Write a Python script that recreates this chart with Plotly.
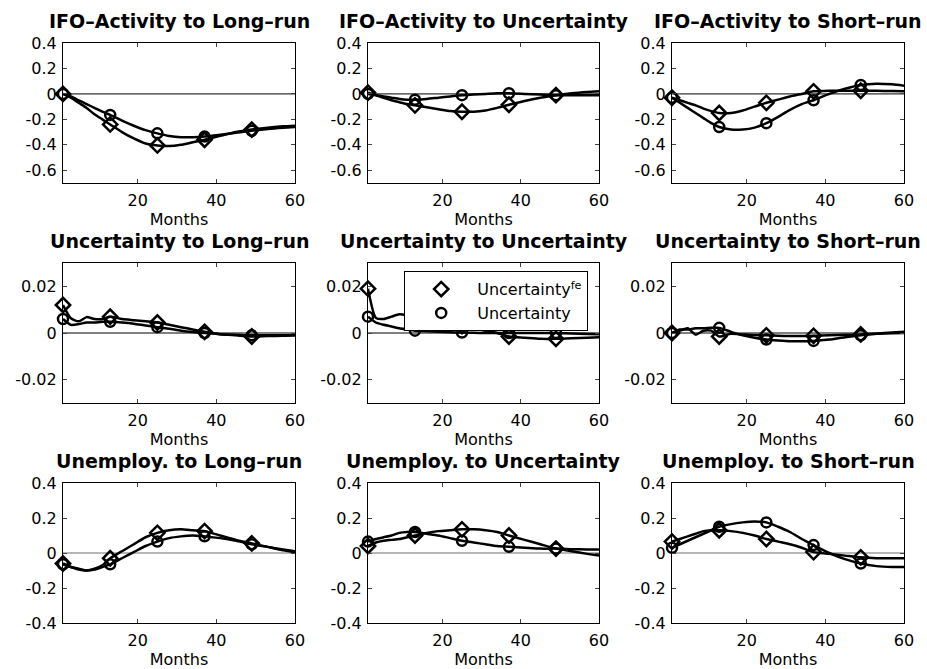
import plotly.graph_objects as go
from plotly.subplots import make_subplots

# ---------------- data ----------------
months = [1, 3, 5, 7, 9, 11, 13, 16, 19, 22, 25, 28, 31, 34, 37, 41, 45, 49, 53, 57, 60]
marker_months = [1, 13, 25, 37, 49]

titles = [
    "IFO–Activity to Long–run", "IFO–Activity to Uncertainty", "IFO–Activity to Short–run",
    "Uncertainty to Long–run", "Uncertainty to Uncertainty", "Uncertainty to Short–run",
    "Unemploy. to Long–run", "Unemploy. to Uncertainty", "Unemploy. to Short–run",
]

# Uncertainty^fe (diamonds)
ifo_long_fe = [0, -0.03, -0.07, -0.11, -0.16, -0.20, -0.24, -0.30, -0.35, -0.39, -0.405, -0.41, -0.40, -0.38, -0.36, -0.33, -0.30, -0.28, -0.265, -0.255, -0.25]
ifo_unc_fe = [0.01, -0.01, -0.03, -0.05, -0.065, -0.08, -0.09, -0.105, -0.12, -0.135, -0.14, -0.14, -0.13, -0.11, -0.085, -0.055, -0.03, -0.01, 0.005, 0.015, 0.02]
ifo_short_fe = [-0.03, -0.05, -0.07, -0.09, -0.115, -0.135, -0.15, -0.15, -0.13, -0.10, -0.07, -0.045, -0.02, 0.0, 0.02, 0.025, 0.025, 0.025, 0.025, 0.022, 0.02]
unc_long_fe = [0.012, 0.0063, 0.005, 0.0068, 0.006, 0.006, 0.007, 0.006, 0.0055, 0.005, 0.0045, 0.0035, 0.0025, 0.0015, 0.0005, -0.0005, -0.001, -0.0015, -0.0013, -0.0012, -0.001]
unc_unc_fe = [0.019, 0.0065, 0.006, 0.007, 0.008, 0.0075, 0.0065, 0.0055, 0.0045, 0.0038, 0.003, 0.002, 0.001, 0.0, -0.0015, -0.002, -0.0025, -0.0025, -0.0022, -0.002, -0.0018]
unc_short_fe = [0.0, 0.001, 0.002, -0.0007, 0.001, 0.001, -0.0015, -0.0003, -0.0006, -0.0009, -0.001, -0.0012, -0.0013, -0.0013, -0.0012, -0.001, -0.0008, -0.0006, -0.0003, -0.0001, 0.0]
une_long_fe = [-0.06, -0.08, -0.09, -0.10, -0.09, -0.07, -0.03, 0.01, 0.05, 0.09, 0.115, 0.13, 0.135, 0.13, 0.125, 0.10, 0.075, 0.055, 0.035, 0.015, 0.005]
une_unc_fe = [0.04, 0.06, 0.07, 0.075, 0.08, 0.09, 0.10, 0.115, 0.125, 0.13, 0.135, 0.135, 0.13, 0.12, 0.10, 0.075, 0.05, 0.025, 0.01, -0.005, -0.015]
une_short_fe = [0.065, 0.08, 0.095, 0.11, 0.125, 0.13, 0.13, 0.125, 0.115, 0.10, 0.08, 0.065, 0.05, 0.03, 0.005, -0.005, -0.015, -0.025, -0.03, -0.03, -0.03]

# Uncertainty (circles)
ifo_long_u = [0, -0.02, -0.05, -0.08, -0.11, -0.14, -0.165, -0.21, -0.25, -0.285, -0.31, -0.33, -0.34, -0.34, -0.335, -0.32, -0.305, -0.29, -0.275, -0.265, -0.26]
ifo_unc_u = [0, -0.01, -0.02, -0.03, -0.04, -0.045, -0.045, -0.04, -0.03, -0.02, -0.01, -0.005, 0, 0.005, 0.005, 0, -0.005, -0.01, -0.01, -0.01, -0.01]
ifo_short_u = [-0.03, -0.07, -0.11, -0.15, -0.19, -0.23, -0.26, -0.28, -0.28, -0.265, -0.23, -0.18, -0.125, -0.08, -0.05, 0.0, 0.04, 0.07, 0.08, 0.075, 0.065]
unc_long_u = [0.006, 0.0035, 0.0038, 0.0045, 0.0045, 0.0048, 0.0048, 0.0045, 0.004, 0.0032, 0.0025, 0.0018, 0.001, 0.0004, 0.0, -0.0005, -0.0008, -0.001, -0.001, -0.001, -0.001]
unc_unc_u = [0.007, 0.0045, 0.0035, 0.0028, 0.002, 0.0015, 0.001, 0.0008, 0.0005, 0.0003, 0.0002, 0.0001, 0, 0, 0, 0, 0, 0, -0.0002, -0.0004, -0.0005]
unc_short_u = [0.0, 0.0015, 0.0015, 0.002, 0.002, 0.0022, 0.0022, 0.0005, -0.001, -0.002, -0.0028, -0.0032, -0.0035, -0.0035, -0.0034, -0.0028, -0.0018, -0.001, -0.0003, 0.0002, 0.0005]
une_long_u = [-0.065, -0.08, -0.095, -0.10, -0.095, -0.08, -0.065, -0.03, 0.005, 0.04, 0.065, 0.085, 0.095, 0.10, 0.095, 0.085, 0.07, 0.05, 0.035, 0.02, 0.01]
une_unc_u = [0.065, 0.08, 0.09, 0.10, 0.115, 0.12, 0.12, 0.11, 0.10, 0.085, 0.07, 0.06, 0.05, 0.04, 0.035, 0.03, 0.025, 0.025, 0.022, 0.02, 0.02]
une_short_u = [0.03, 0.05, 0.07, 0.09, 0.11, 0.13, 0.15, 0.165, 0.175, 0.18, 0.175, 0.15, 0.12, 0.08, 0.045, 0.0, -0.035, -0.06, -0.075, -0.08, -0.08]

series_fe = [ifo_long_fe, ifo_unc_fe, ifo_short_fe, unc_long_fe, unc_unc_fe, unc_short_fe,
             une_long_fe, une_unc_fe, une_short_fe]
series_u = [ifo_long_u, ifo_unc_u, ifo_short_u, unc_long_u, unc_unc_u, unc_short_u,
            une_long_u, une_unc_u, une_short_u]

row_ranges = [[-0.7, 0.4], [-0.03, 0.03], [-0.4, 0.4]]
row_ticks = [[-0.6, -0.4, -0.2, 0, 0.2, 0.4], [-0.02, 0, 0.02], [-0.4, -0.2, 0, 0.2, 0.4]]
row_ticktext = [["-0.6", "-0.4", "-0.2", "0", "0.2", "0.4"], ["-0.02", "0", "0.02"],
                ["-0.4", "-0.2", "0", "0.2", "0.4"]]
x_ticks = [20, 40, 60]
legend_names = ["Uncertainty<sup>fe</sup>", "Uncertainty"]

# ---------------- layout geometry ----------------
W, H = 927, 669
col_px = [(63, 295), (368, 599), (672, 904)]
row_px = [(43, 183), (263, 403), (483, 623)]

FONT = "DejaVu Sans"
LW = 2.5

fig = make_subplots(rows=3, cols=3)

mk_idx = [months.index(m) for m in marker_months]
symbols = ["diamond-open", "circle-open"]
msizes = [11, 10]

for k in range(9):
    r, c = divmod(k, 3)
    for s, ser in enumerate([series_fe[k], series_u[k]]):
        fig.add_trace(go.Scatter(
            x=months, y=ser, mode="lines", line=dict(color="black", width=LW, shape="spline", smoothing=0.6),
            showlegend=False, hoverinfo="skip"), row=r + 1, col=c + 1)
        fig.add_trace(go.Scatter(
            x=[months[i] for i in mk_idx], y=[ser[i] for i in mk_idx], mode="markers",
            marker=dict(symbol=symbols[s], size=msizes[s], color="black", line=dict(color="black", width=2.5)),
            cliponaxis=False, showlegend=False, hoverinfo="skip"), row=r + 1, col=c + 1)

# legend-only entries
for s in range(2):
    fig.add_trace(go.Scatter(
        x=[None], y=[None], mode="markers", name=legend_names[s],
        marker=dict(symbol=symbols[s], size=msizes[s], color="black", line=dict(color="black", width=2.5)),
        showlegend=True), row=2, col=2)

annotations = []
shapes = []
for k in range(9):
    r, c = divmod(k, 3)
    idx = "" if k == 0 else str(k + 1)
    x0, x1 = col_px[c]
    y0, y1 = row_px[r]
    xd = [x0 / W, x1 / W]
    yd = [1 - y1 / H, 1 - y0 / H]
    fig.layout["xaxis" + idx].update(
        domain=xd, range=[1, 60], tickvals=x_ticks, ticks="inside", ticklen=4, tickwidth=1,
        showline=True, linecolor="black", linewidth=1.2, mirror="ticks", showgrid=False, zeroline=False,
        automargin=False,
        tickfont=dict(family=FONT, size=16, color="black"), ticklabelstandoff=3,
        title=dict(text="Months", font=dict(family=FONT, size=16, color="black"), standoff=0))
    fig.layout["yaxis" + idx].update(
        domain=yd, range=row_ranges[r], tickvals=row_ticks[r], ticktext=row_ticktext[r],
        ticks="inside", ticklen=4, tickwidth=1, automargin=False,
        showline=True, linecolor="black", linewidth=1.2, mirror="ticks", showgrid=False, zeroline=False,
        tickfont=dict(family=FONT, size=16, color="black"), ticklabelstandoff=2)
    annotations.append(dict(
        text="<b>" + titles[k] + "</b>", xref="paper", yref="paper", x=(xd[0] + xd[1]) / 2, y=yd[1],
        xanchor="center", yanchor="bottom", yshift=9, showarrow=False,
        font=dict(family=FONT, size=19, color="black")))
    shapes.append(dict(
        type="line", xref="x" + idx + " domain", yref="y" + idx, x0=0, x1=1, y0=0, y1=0,
        line=dict(color="black" if r < 2 else "#6e6e6e", width=1), layer="below"))

fig.update_layout(
    width=W, height=H, margin=dict(l=0, r=0, t=0, b=0, autoexpand=False),
    paper_bgcolor="white", plot_bgcolor="white",
    annotations=annotations, shapes=shapes,
    legend=dict(x=404 / W, y=1 - 271 / H, xanchor="left", yanchor="top",
                bgcolor="white", bordercolor="black", borderwidth=1.2,
                font=dict(family=FONT, size=16, color="black"), itemwidth=62,
                tracegroupgap=0),
)

fig.write_html("out.html")
